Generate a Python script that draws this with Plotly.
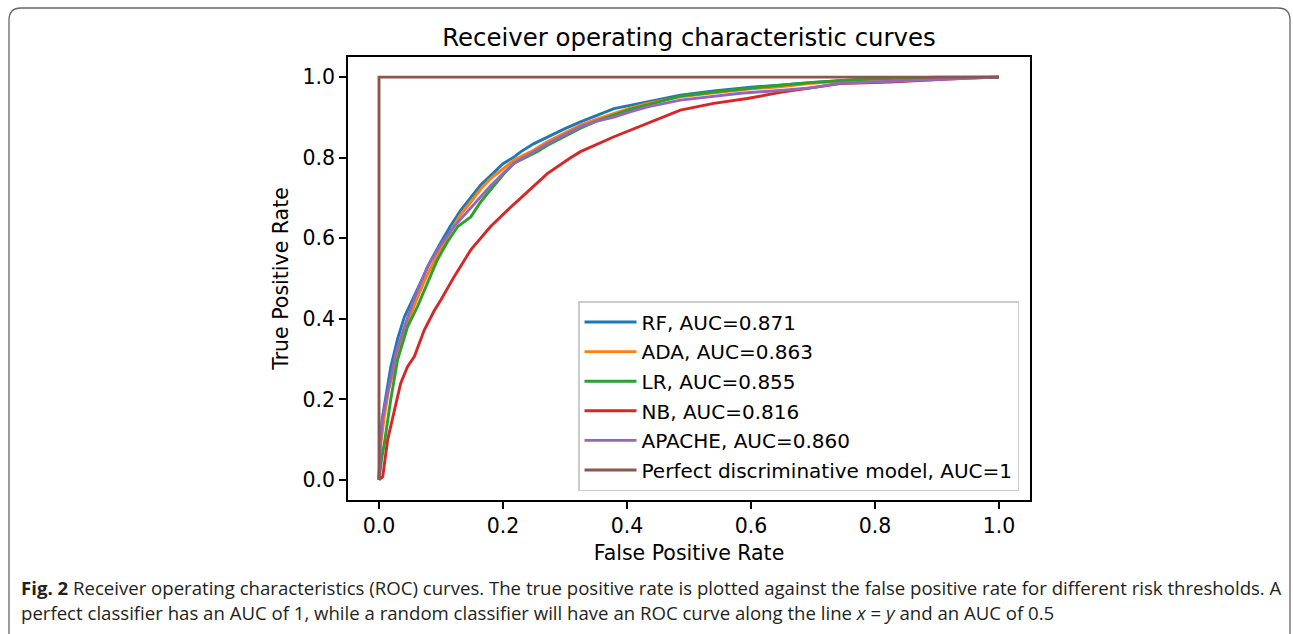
import plotly.graph_objects as go

# ---------------- data ----------------
series_names = ["RF, AUC=0.871", "ADA, AUC=0.863", "LR, AUC=0.855", "NB, AUC=0.816",
                "APACHE, AUC=0.860", "Perfect discriminative model, AUC=1"]

rf_fpr = [0, 0.002, 0.005, 0.009, 0.019, 0.03, 0.041, 0.054, 0.07, 0.084, 0.1, 0.115, 0.132, 0.15, 0.164,
          0.175, 0.2, 0.218, 0.229, 0.25, 0.272, 0.3, 0.325, 0.35, 0.379, 0.405, 0.433, 0.46, 0.486, 0.54,
          0.6, 0.647, 0.7, 0.76, 0.8, 0.85, 0.9, 1.0]
rf_tpr = [0, 0.08, 0.15, 0.19, 0.28, 0.35, 0.405, 0.447, 0.5, 0.546, 0.59, 0.63, 0.67, 0.705, 0.732,
          0.748, 0.785, 0.802, 0.815, 0.835, 0.852, 0.872, 0.889, 0.905, 0.922, 0.93, 0.939, 0.947, 0.955, 0.966,
          0.975, 0.98, 0.987, 0.993, 0.996, 0.998, 1.0, 1.0]

ada_fpr = [0, 0.003, 0.008, 0.015, 0.03, 0.046, 0.06, 0.075, 0.0945, 0.11, 0.13, 0.148, 0.164, 0.18, 0.2,
           0.218, 0.245, 0.272, 0.3, 0.325, 0.35, 0.379, 0.405, 0.433, 0.486, 0.54, 0.6, 0.647, 0.7, 0.76,
           0.8, 0.85, 0.9, 1.0]
ada_tpr = [0, 0.09, 0.15, 0.22, 0.31, 0.39, 0.445, 0.5, 0.56, 0.6, 0.655, 0.69, 0.722, 0.748, 0.772,
           0.794, 0.815, 0.84, 0.862, 0.881, 0.895, 0.91, 0.923, 0.935, 0.951, 0.961, 0.971, 0.976, 0.985, 0.992,
           0.995, 0.997, 0.999, 1.0]

lr_fpr = [0, 0.004, 0.0086, 0.019, 0.03, 0.046, 0.062, 0.078, 0.094, 0.11, 0.127, 0.148, 0.164, 0.175,
          0.202, 0.218, 0.255, 0.272, 0.3, 0.325, 0.35, 0.379, 0.405, 0.433, 0.486, 0.54, 0.6, 0.647, 0.7,
          0.76, 0.8, 0.85, 0.9, 1.0]
lr_tpr = [0, 0.05, 0.09, 0.2, 0.298, 0.38, 0.43, 0.49, 0.546, 0.59, 0.629, 0.653, 0.69, 0.711,
          0.761, 0.786, 0.815, 0.831, 0.853, 0.873, 0.89, 0.906, 0.92, 0.931, 0.953, 0.963, 0.973, 0.98, 0.987,
          0.993, 0.996, 0.998, 0.999, 1.0]

nb_fpr = [0, 0.003, 0.006, 0.014, 0.025, 0.035, 0.046, 0.057, 0.073, 0.089, 0.1, 0.121, 0.148, 0.164, 0.18,
          0.213, 0.255, 0.272, 0.309, 0.325, 0.379, 0.433, 0.486, 0.54, 0.594, 0.647, 0.7, 0.744, 0.824,
          0.9, 0.95, 1.0]
nb_tpr = [0, 0.004, 0.008, 0.1, 0.174, 0.24, 0.281, 0.306, 0.372, 0.42, 0.447, 0.504, 0.571, 0.6, 0.629,
          0.678, 0.736, 0.761, 0.80, 0.815, 0.852, 0.885, 0.918, 0.935, 0.947, 0.962, 0.975, 0.984, 0.988,
          0.995, 0.998, 1.0]

ap_fpr = [0, 0.002, 0.006, 0.014, 0.027, 0.041, 0.054, 0.078, 0.1, 0.121, 0.148, 0.164, 0.18, 0.202, 0.218,
          0.25, 0.272, 0.3, 0.325, 0.35, 0.379, 0.405, 0.433, 0.486, 0.54, 0.583, 0.647, 0.7, 0.744, 0.824,
          0.905, 0.95, 1.0]
ap_tpr = [0, 0.09, 0.157, 0.215, 0.314, 0.38, 0.438, 0.529, 0.585, 0.629, 0.675, 0.703, 0.73, 0.763, 0.787,
          0.815, 0.835, 0.857, 0.877, 0.89, 0.901, 0.914, 0.926, 0.943, 0.953, 0.96, 0.967, 0.974, 0.985, 0.99,
          0.994, 0.997, 1.0]

perfect_fpr = [0, 0, 1]
perfect_tpr = [0, 1, 1]

x_ticks = [0.0, 0.2, 0.4, 0.6, 0.8, 1.0]
y_ticks = [0.0, 0.2, 0.4, 0.6, 0.8, 1.0]
tick_text = ["0.0", "0.2", "0.4", "0.6", "0.8", "1.0"]

colors = ["#1f77b4", "#ff7f0e", "#2ca02c", "#d62728", "#9467bd", "#8c564b"]

caption1 = ("<b>Fig. 2</b> Receiver operating characteristics (ROC) curves. The true positive rate is plotted "
            "against the false positive rate for different risk thresholds. A")
caption2 = ("perfect classifier has an AUC of 1, while a random classifier will have an ROC curve along the line "
            "<i>x</i> = <i>y</i> and an AUC of 0.5")

# ---------------- figure ----------------
W, H = 1293, 634
L, R, T, B = 348, 1030, 57, 500


def px(x):
    return (x - L) / (R - L)


def py(y):
    return (B - y) / (B - T)


fig = go.Figure()
data = [(rf_fpr, rf_tpr), (ada_fpr, ada_tpr), (lr_fpr, lr_tpr), (nb_fpr, nb_tpr),
        (ap_fpr, ap_tpr), (perfect_fpr, perfect_tpr)]
for i, ((xs, ys), name) in enumerate(zip(data, series_names)):
    fig.add_trace(go.Scatter(x=xs, y=ys, mode="lines", name=name, legendgroup=str(i),
                             line=dict(color=colors[i], width=2.9)))

font_main = "DejaVu Sans"
FS = 20.5

fig.update_layout(
    width=W, height=H,
    margin=dict(l=L, r=W - R, t=T, b=H - B),
    paper_bgcolor="white", plot_bgcolor="white",
    font=dict(family=font_main, size=FS, color="black"),
    title=dict(text="Receiver operating characteristic curves", x=0.5, xref="paper", xanchor="center",
               y=1 - 37 / H, yref="container", yanchor="middle",
               font=dict(family=font_main, size=24.4, color="black")),
    showlegend=True,
    legend=dict(x=px(1019), y=py(491), xanchor="right", yanchor="bottom",
                bgcolor="rgba(255,255,255,0.8)", bordercolor="#cccccc", borderwidth=1.5,
                font=dict(family=font_main, size=20, color="black"),
                tracegroupgap=0.6, itemwidth=52),
)

axis_common = dict(showline=True, linecolor="black", linewidth=1.5, mirror=True,
                   showgrid=False, zeroline=False, ticks="outside", ticklen=7, tickwidth=1.5,
                   tickcolor="black", tickfont=dict(family=font_main, size=FS, color="black"))
fig.update_xaxes(range=[-0.05, 1.05], tickvals=x_ticks, ticktext=tick_text,
                 title=dict(text="False Positive Rate", font=dict(family=font_main, size=FS), standoff=8),
                 **axis_common)
fig.update_yaxes(range=[-0.05, 1.05], tickvals=y_ticks, ticktext=tick_text,
                 title=dict(text="True Positive Rate", font=dict(family=font_main, size=FS), standoff=8),
                 **axis_common)

# rounded outer frame
x0, x1, y0, y1, r = 9, 1290, 8, 660, 12
path = (f"M {px(x0)},{py(y1)} L {px(x0)},{py(y0 + r)} Q {px(x0)},{py(y0)} {px(x0 + r)},{py(y0)} "
        f"L {px(x1 - r)},{py(y0)} Q {px(x1)},{py(y0)} {px(x1)},{py(y0 + r)} L {px(x1)},{py(y1)}")
fig.add_shape(type="path", path=path, xref="paper", yref="paper",
              line=dict(color="#666666", width=1.3))

cap_font = dict(family="Open Sans", size=18.6, color="#231f20")
fig.add_annotation(text=caption1, x=px(19), y=py(587), xref="paper", yref="paper",
                   xanchor="left", yanchor="middle", showarrow=False, font=cap_font)
fig.add_annotation(text=caption2, x=px(19), y=py(612), xref="paper", yref="paper",
                   xanchor="left", yanchor="middle", showarrow=False, font=cap_font)

fig.write_html("out.html")
